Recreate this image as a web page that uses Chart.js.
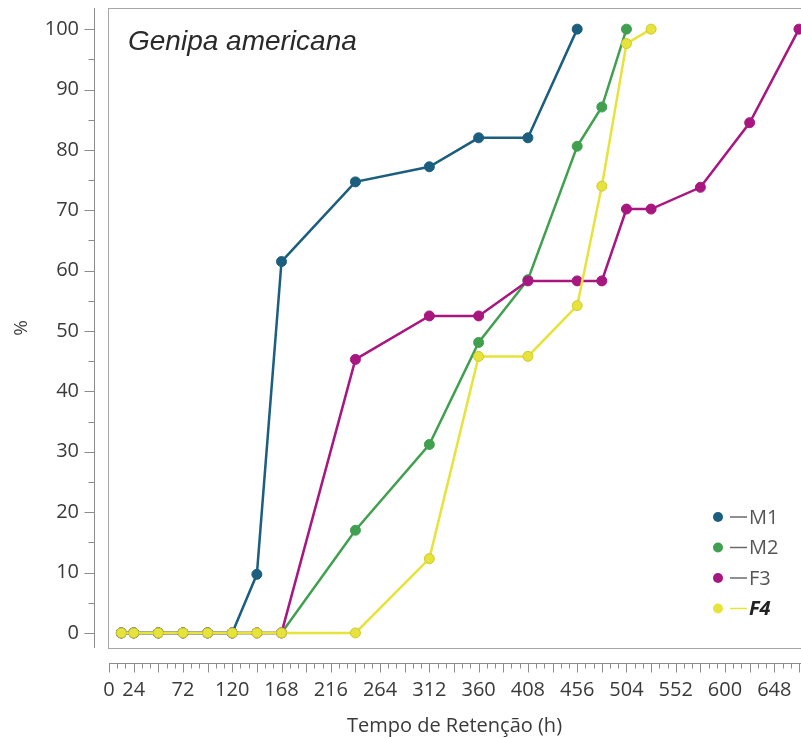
<!DOCTYPE html>
<html>
<head>
<meta charset="utf-8">
<script src="https://cdn.jsdelivr.net/npm/chart.js@4.4.0/dist/chart.umd.min.js"></script>
<style>
  html, body { margin: 0; padding: 0; background: #fff; }
  #wrap { width: 801px; height: 738px; }
</style>
</head>
<body>
<div id="wrap"><canvas id="chart" width="801" height="738"></canvas></div>
<script>
const seriesNames = ['M1', 'M2', 'F3', 'F4'];
const seriesColors = ['#1b5e7e', '#40a04f', '#a8167f', '#e6e33b'];

const m1Hours = [12, 24, 48, 72, 96, 120, 144, 168, 240, 312, 360, 408, 456];
const m1Values = [0, 0, 0, 0, 0, 0, 9.7, 61.5, 74.7, 77.2, 82, 82, 100];
const m2Hours = [12, 24, 48, 72, 96, 120, 144, 168, 240, 312, 360, 408, 456, 480, 504];
const m2Values = [0, 0, 0, 0, 0, 0, 0, 0, 17, 31.2, 48.1, 58.5, 80.6, 87.1, 100];
const f3Hours = [12, 24, 48, 72, 96, 120, 144, 168, 240, 312, 360, 408, 456, 480, 504, 528, 576, 624, 672];
const f3Values = [0, 0, 0, 0, 0, 0, 0, 0, 45.3, 52.5, 52.5, 58.3, 58.3, 58.3, 70.2, 70.2, 73.8, 84.5, 100];
const f4Hours = [12, 24, 48, 72, 96, 120, 144, 168, 240, 312, 360, 408, 456, 480, 504, 528];
const f4Values = [0, 0, 0, 0, 0, 0, 0, 0, 0, 12.3, 45.8, 45.8, 54.2, 74, 97.6, 100];

const xTickLabels = [0, 24, 72, 120, 168, 216, 264, 312, 360, 408, 456, 504, 552, 600, 648];
const yTickLabels = [0, 10, 20, 30, 40, 50, 60, 70, 80, 90, 100];

const toPoints = (hours, values) => hours.map((h, i) => ({ x: h, y: values[i] }));
const allHours = [m1Hours, m2Hours, f3Hours, f4Hours];
const allValues = [m1Values, m2Values, f3Values, f4Values];
const drawOrder = [1, 3, 2, 0];

const tickFont = { family: '"Open Sans", "Noto Sans", sans-serif', size: 20 };

const noPadding = (scale) => {
    scale.paddingTop = 0;
    scale.paddingBottom = 0;
    scale.paddingLeft = 0;
    scale.paddingRight = 0;
};

// frame round the plot, detached axis lines and their tick marks
const axesPlugin = {
    id: 'axesPlugin',
    beforeDatasetsDraw(chart) {
        const { ctx, chartArea, scales } = chart;
        const x = scales.x;
        const y = scales.y;
        ctx.save();
        ctx.strokeStyle = '#a6a6a6';
        ctx.lineWidth = 1;
        ctx.strokeRect(chartArea.left + 0.5, chartArea.top + 0.5, chartArea.right - chartArea.left + 2, chartArea.bottom - chartArea.top);

        ctx.strokeStyle = '#8c8c8c';
        const yAxisX = chartArea.left - 13.5;
        ctx.beginPath();
        ctx.moveTo(yAxisX, chartArea.top);
        ctx.lineTo(yAxisX, chartArea.bottom);
        for (let v = 0; v <= 100; v += 5) {
            const py = Math.round(y.getPixelForValue(v)) + 0.5;
            ctx.moveTo(yAxisX, py);
            ctx.lineTo(yAxisX - (v % 10 === 0 ? 10 : 6), py);
        }
        const xAxisY = chartArea.bottom + 15.5;
        ctx.moveTo(chartArea.left + 1, xAxisY);
        ctx.lineTo(chartArea.right, xAxisY);
        for (let h = 0; h <= 672; h += 8) {
            const px = Math.round(x.getPixelForValue(h)) + 0.5;
            ctx.moveTo(px, xAxisY);
            ctx.lineTo(px, xAxisY + (h % 24 === 0 ? 9 : 5));
        }
        ctx.stroke();

        ctx.fillStyle = '#2a2a2a';
        ctx.font = 'italic 28px "Liberation Sans", Arial, sans-serif';
        ctx.textBaseline = 'alphabetic';
        ctx.fillText('Genipa americana', chartArea.left + 20, chartArea.top + 42);
        ctx.restore();
    },
    afterDraw(chart) {
        const { ctx, chartArea } = chart;
        ctx.save();
        const mx = chartArea.right - 83;
        seriesNames.forEach((name, i) => {
            const ry = chartArea.bottom - 131 + i * 30.5;
            ctx.fillStyle = seriesColors[i];
            ctx.beginPath();
            ctx.arc(mx, ry, 5, 0, Math.PI * 2);
            ctx.fill();
            ctx.strokeStyle = i === 3 ? seriesColors[3] : '#6a6a6a';
            ctx.lineWidth = 1.5;
            ctx.beginPath();
            ctx.moveTo(mx + 12, ry);
            ctx.lineTo(mx + 29, ry);
            ctx.stroke();
            ctx.fillStyle = i === 3 ? '#222' : '#555';
            ctx.font = (i === 3 ? 'italic bold ' : '') + '20px "Open Sans", "Noto Sans", sans-serif';
            ctx.textBaseline = 'middle';
            ctx.fillText(name, mx + 31, ry + 1);
        });
        ctx.restore();
    },
};

new Chart(document.getElementById('chart'), {
    type: 'line',
    data: {
        datasets: seriesNames.map((name, i) => ({
            label: name,
            data: toPoints(allHours[i], allValues[i]),
            borderColor: seriesColors[i],
            backgroundColor: seriesColors[i],
            pointBackgroundColor: seriesColors[i],
            pointBorderColor: i === 3 ? '#cfc832' : seriesColors[i],
            pointBorderWidth: 1,
            pointRadius: 5,
            borderWidth: 2.5,
            tension: 0,
            order: drawOrder[i],
            clip: 8,
        })),
    },
    options: {
        responsive: false,
        animation: false,
        layout: { autoPadding: false, padding: { top: 8, right: 0, left: 0, bottom: 0 } },
        plugins: {
            legend: { display: false },
            tooltip: { enabled: false },
        },
        scales: {
            x: {
                type: 'linear',
                min: -1,
                max: 674,
                grid: { display: false, drawTicks: false },
                border: { display: false },
                ticks: { font: tickFont, color: '#3a3a3a', padding: 30, maxRotation: 0, autoSkip: false },
                afterBuildTicks: (scale) => { scale.ticks = xTickLabels.map((v) => ({ value: v })); },
                afterFit: (scale) => { scale.height = 90; noPadding(scale); },
                title: {
                    display: true,
                    text: 'Tempo de Retenção (h)',
                    font: { family: '"Open Sans", "Noto Sans", sans-serif', size: 20 },
                    color: '#3a3a3a',
                    padding: { top: 0, bottom: 0 },
                },
            },
            y: {
                type: 'linear',
                min: -2.5,
                max: 103.5,
                grid: { display: false, drawTicks: false },
                border: { display: false },
                ticks: { font: tickFont, color: '#3a3a3a', padding: 29 },
                afterBuildTicks: (scale) => { scale.ticks = yTickLabels.map((v) => ({ value: v })); },
                afterFit: (scale) => { scale.width = 108; noPadding(scale); },
                title: {
                    display: true,
                    text: '%',
                    font: { family: '"Open Sans", "Noto Sans", sans-serif', size: 19 },
                    color: '#3a3a3a',
                    padding: { top: 10, bottom: 0 },
                },
            },
        },
    },
    plugins: [axesPlugin],
});
</script>
</body>
</html>
